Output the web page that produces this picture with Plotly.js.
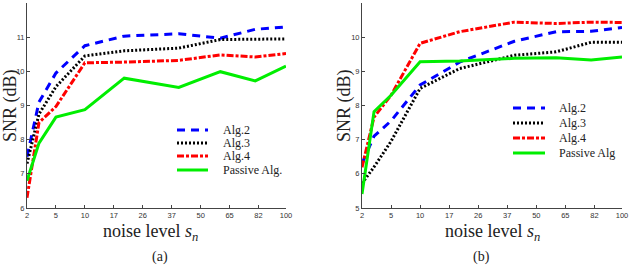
<!DOCTYPE html>
<html><head><meta charset="utf-8">
<script src="https://cdn.plot.ly/plotly-3.0.1.min.js"></script>
<style>html,body{margin:0;padding:0;background:#fff}#c{width:640px;height:269px}</style>
</head><body><div id="c"></div>
<script>
// noise levels (data points) and tick labels
const noiseLevels = [2, 3, 5, 10, 20, 40, 60, 80, 100];
const tickLabels = [2, 5, 10, 17, 26, 37, 50, 65, 82, 100];
const seriesNames = ['Alg.2', 'Alg.3', 'Alg.4', 'Passive Alg.'];
const seriesNamesB = ['Alg.2', 'Alg.3', 'Alg.4', 'Passive Alg'];
// panel (a)
const a_alg2 = [7.5, 9.1, 9.95, 10.75, 11.03, 11.1, 10.97, 11.23, 11.3];
const a_alg3 = [7.3, 8.75, 9.55, 10.45, 10.6, 10.68, 10.93, 10.95, 10.95];
const a_alg4 = [6.3, 8.5, 8.97, 10.25, 10.27, 10.32, 10.48, 10.42, 10.52];
const a_passive = [6.8, 7.9, 8.66, 8.88, 9.8, 9.53, 9.99, 9.72, 10.15];
// panel (b)
const b_alg2 = [6.3, 7.1, 7.55, 8.6, 9.27, 9.88, 10.16, 10.17, 10.28];
const b_alg3 = [5.72, 6.2, 6.95, 8.5, 9.08, 9.47, 9.57, 9.85, 9.85];
const b_alg4 = [6.19, 7.66, 8.3, 9.82, 10.16, 10.44, 10.4, 10.44, 10.43];
const b_passive = [5.41, 7.82, 8.3, 9.28, 9.3, 9.38, 9.4, 9.33, 9.42];

// axis is linear in sqrt(s-1)
const toX = s => Math.sqrt(s - 1);
const xs = noiseLevels.map(toX);
const tickVals = tickLabels.map(toX);

const styles = [
  {color:'#0000ff', dash:'8px,6px'},
  {color:'#000000', dash:'2px,2px'},
  {color:'#ff0000', dash:'7px,2px,3px,2px'},
  {color:'#00ee00', dash:'solid'}
];
const aData = [a_alg2, a_alg3, a_alg4, a_passive];
const bData = [b_alg2, b_alg3, b_alg4, b_passive];
const traces = [];
aData.forEach((d,i)=>traces.push({x:xs, y:d, type:'scatter', mode:'lines', name:seriesNames[i], showlegend:false,
  line:{color:styles[i].color, dash:styles[i].dash, width:3}, xaxis:'x', yaxis:'y'}));
bData.forEach((d,i)=>traces.push({x:xs, y:d, type:'scatter', mode:'lines', name:seriesNamesB[i], showlegend:false,
  line:{color:styles[i].color, dash:styles[i].dash, width:3}, xaxis:'x2', yaxis:'y2'}));

const W=640,H=269;
const px = v=>v/W, py = v=>1-v/H;
const tickFont = {family:'Liberation Sans, Arial, sans-serif', size:7.5, color:'#333'};
const axX = (dom)=>({domain:dom, range:[toX(2), toX(100)], tickvals:tickVals, ticktext:tickLabels.map(String),
  showline:true, linecolor:'#444', linewidth:1, ticks:'inside', ticklen:3, tickcolor:'#444',
  showgrid:false, zeroline:false, tickfont:tickFont, fixedrange:true});
const axY = (range, anchor)=>({domain:[py(208), py(3)], range:range, dtick:1, anchor:anchor,
  showline:true, linecolor:'#444', linewidth:1, ticks:'inside', ticklen:3, tickcolor:'#444',
  showgrid:false, zeroline:false, tickfont:tickFont, fixedrange:true});
const serif = 'Liberation Serif, Times New Roman, serif';
const ann = (text, x, y, size, extra)=>Object.assign({text:text, xref:'paper', yref:'paper', x:px(x), y:py(y),
  xanchor:'center', yanchor:'middle', showarrow:false, font:{family:serif, size:size, color:'#222'}}, extra||{});

// hand-built legends (compact spacing as in the reference)
const shapes = [], annotations = [];
function legend(names, x0, x1, xt, ys){
  names.forEach((n,i)=>{
    shapes.push({type:'line', xref:'paper', yref:'paper', x0:px(x0), x1:px(x1), y0:py(ys[i]), y1:py(ys[i]),
      line:{color:styles[i].color, dash:styles[i].dash, width:3}});
    annotations.push(ann(n, xt, ys[i], 12, {xanchor:'left'}));
  });
}
legend(seriesNames, 177, 208, 221, [130, 143, 156, 170]);
legend(seriesNamesB, 513, 545, 557, [108, 123, 138, 153]);
annotations.push(
  ann('SNR (dB)', 11, 106, 18, {textangle:-90}),
  ann('SNR (dB)', 345, 106, 18, {textangle:-90}),
  ann('noise level <i>s<sub>n</sub></i>', 150, 232, 18),
  ann('noise level <i>s<sub>n</sub></i>', 492, 232, 18),
  ann('(a)', 160, 257, 14),
  ann('(b)', 481, 257, 14)
);
const layout = {
  width:W, height:H, margin:{l:0,r:0,t:0,b:0}, paper_bgcolor:'#fff', plot_bgcolor:'#fff', showlegend:false,
  xaxis:Object.assign(axX([px(27), px(286)]), {anchor:'y'}),
  yaxis:axY([6,12], 'x'),
  xaxis2:Object.assign(axX([px(362), px(622)]), {anchor:'y2'}),
  yaxis2:axY([5,11], 'x2'),
  shapes:shapes, annotations:annotations
};
Plotly.newPlot('c', traces, layout, {displayModeBar:false, staticPlot:true});
</script></body></html>
